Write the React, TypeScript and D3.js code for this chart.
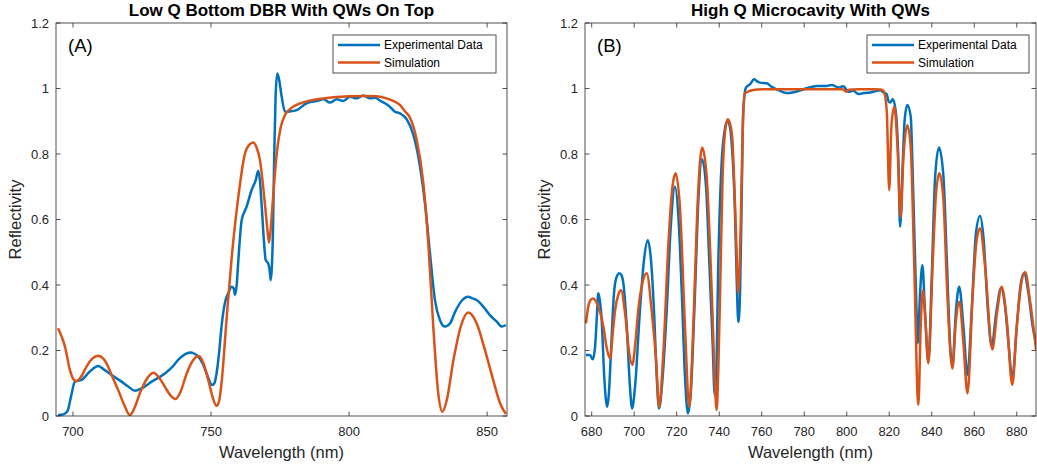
import React from "react";
import * as d3 from "d3";

// ---------- DATA ----------
const leftExpWl = [694.6,696.5,698.0,699.3,700.7,703.1,706.0,709.1,711.5,714.0,717.6,720.0,722.4,725.0,728.5,733.3,736.0,738.1,740.5,742.4,744.0,745.4,747.0,748.4,750.4,751.2,752.0,753.0,753.8,755.0,756.5,757.4,758.2,758.7,759.3,759.9,761.1,762.9,764.7,766.2,767.1,767.7,768.3,769.2,769.8,770.7,771.3,771.6,772.0,772.4,772.9,773.4,774.0,774.6,775.5,776.8,778.5,781.0,784.6,788.3,790.7,793.1,795.5,797.9,800.3,802.7,805.1,807.6,809.5,811.2,813.0,814.8,816.5,818.4,820.9,823.3,825.7,827.5,829.3,831.1,832.9,834.7,836.6,838.4,840.8,843.2,844.5,846.2,848.6,851.0,853.5,855.3,856.8];
const leftExpR = [0.003,0.005,0.015,0.06,0.105,0.11,0.135,0.153,0.14,0.125,0.105,0.09,0.077,0.085,0.105,0.13,0.15,0.171,0.188,0.194,0.19,0.181,0.16,0.13,0.095,0.1,0.13,0.2,0.273,0.344,0.38,0.395,0.39,0.37,0.4,0.476,0.598,0.639,0.69,0.72,0.749,0.72,0.649,0.53,0.476,0.466,0.44,0.415,0.45,0.55,0.8,0.98,1.046,1.03,0.98,0.929,0.93,0.934,0.955,0.962,0.967,0.957,0.967,0.962,0.975,0.97,0.979,0.97,0.972,0.963,0.955,0.944,0.93,0.924,0.906,0.858,0.761,0.649,0.497,0.354,0.293,0.273,0.283,0.318,0.352,0.364,0.36,0.354,0.334,0.308,0.288,0.273,0.278];

const leftSimWl = [694.6,696.0,697.1,698.9,700.2,701.3,702.8,704.9,707.0,709.1,711.0,712.7,714.5,716.4,718.5,720.6,722.3,724.2,726.5,729.1,731.2,733.3,735.3,737.2,739.0,741.2,743.5,745.6,747.3,749.0,750.5,752.0,752.9,753.8,755.6,757.4,759.9,762.3,763.8,765.3,766.5,767.7,769.5,770.4,771.0,771.7,772.5,773.8,775.2,776.8,779.0,781.0,785.8,790.0,794.3,800.0,806.4,810.0,813.6,816.0,818.4,820.3,822.1,824.5,826.9,828.7,830.5,832.3,833.8,835.4,837.8,840.8,843.2,846.2,849.2,852.2,854.7,856.8];
const leftSimR = [0.268,0.24,0.212,0.14,0.112,0.107,0.118,0.151,0.175,0.184,0.175,0.151,0.115,0.079,0.035,0.003,0.025,0.069,0.11,0.132,0.117,0.089,0.063,0.052,0.075,0.13,0.17,0.183,0.16,0.11,0.06,0.031,0.045,0.1,0.293,0.476,0.67,0.802,0.828,0.835,0.82,0.782,0.649,0.57,0.529,0.58,0.67,0.802,0.88,0.919,0.94,0.95,0.963,0.969,0.973,0.976,0.977,0.976,0.97,0.962,0.95,0.93,0.91,0.843,0.711,0.527,0.273,0.069,0.013,0.049,0.171,0.283,0.316,0.283,0.202,0.11,0.039,0.006];

const rightExpWl = [677.3,679.2,680.5,681.6,682.4,683.1,683.9,684.7,685.9,687.3,688.1,688.9,690.5,691.5,693.0,694.0,694.9,696.5,698.0,699.0,700.4,702.7,704.6,706.4,707.9,709.3,710.6,711.7,713.4,715.3,717.2,719.2,720.8,722.4,723.9,725.3,726.6,728.6,730.2,731.9,733.8,735.3,736.9,737.9,738.5,739.6,741.2,742.5,743.8,744.8,745.9,747.4,748.2,749.0,749.8,750.6,751.3,752.6,754.5,756.4,757.8,759.2,762.4,764.7,768.6,771.8,776.5,781.2,785.9,790.6,793.0,796.1,798.4,800.8,803.1,805.5,808.0,811.0,813.5,815.7,817.3,818.8,819.6,820.4,821.7,823.2,824.3,825.1,826.4,827.2,828.5,830.1,831.3,832.6,833.4,834.5,835.6,836.8,838.4,840.0,841.6,843.4,845.5,847.1,848.6,849.7,851.4,852.9,854.9,856.8,858.8,860.8,862.7,864.3,866.4,868.2,870.3,872.6,874.5,876.1,877.9,880.0,881.8,883.4,885.5,887.5,889.1];
const rightExpR = [0.186,0.186,0.173,0.212,0.3,0.375,0.35,0.293,0.12,0.028,0.07,0.171,0.375,0.42,0.436,0.43,0.405,0.273,0.09,0.023,0.09,0.323,0.476,0.537,0.476,0.323,0.12,0.023,0.12,0.323,0.578,0.7,0.608,0.375,0.12,0.008,0.069,0.375,0.66,0.784,0.7,0.476,0.222,0.064,0.1,0.476,0.78,0.87,0.9,0.89,0.83,0.627,0.424,0.287,0.375,0.678,0.932,1.003,1.013,1.028,1.022,1.018,1.016,1.005,0.993,0.986,0.991,1.001,1.008,1.008,1.011,1.003,1.007,0.99,0.993,0.983,0.986,0.988,0.992,0.995,0.988,0.983,0.962,0.957,0.967,0.922,0.78,0.578,0.78,0.9,0.95,0.914,0.678,0.375,0.222,0.375,0.46,0.323,0.166,0.424,0.731,0.82,0.731,0.476,0.222,0.151,0.323,0.395,0.273,0.125,0.323,0.558,0.611,0.548,0.323,0.212,0.314,0.39,0.334,0.222,0.115,0.273,0.4,0.436,0.375,0.273,0.222];

const rightSimWl = [677.3,678.4,679.6,680.8,682.0,683.1,685.5,687.0,688.6,690.0,691.0,692.5,693.8,695.7,697.5,699.1,700.5,701.9,704.0,705.9,708.2,710.3,711.7,713.7,716.1,718.0,719.5,721.6,723.9,725.9,727.8,729.7,731.0,732.0,734.1,736.5,738.0,738.8,739.6,740.4,741.6,742.8,744.0,745.2,746.2,747.8,749.0,750.1,751.1,752.1,754.5,758.0,764.0,770.0,780.0,790.0,798.0,800.0,801.0,805.0,812.0,816.0,817.3,818.8,820.0,821.0,822.4,823.8,825.4,826.6,828.5,830.1,831.7,833.7,834.8,835.8,837.0,838.4,840.5,842.0,843.6,845.5,847.3,849.7,851.4,853.0,854.9,856.8,859.3,861.0,862.7,865.1,868.5,870.8,872.9,875.3,877.9,880.0,882.0,883.9,886.2,889.1];
const rightSimR = [0.283,0.334,0.355,0.359,0.35,0.334,0.273,0.21,0.176,0.26,0.323,0.37,0.384,0.314,0.2,0.156,0.22,0.323,0.41,0.436,0.323,0.171,0.028,0.191,0.527,0.7,0.741,0.629,0.273,0.028,0.273,0.629,0.78,0.82,0.731,0.375,0.1,0.018,0.15,0.375,0.731,0.87,0.906,0.89,0.843,0.578,0.375,0.578,0.884,0.985,0.993,0.997,0.998,0.998,0.998,0.998,0.998,0.99,0.996,0.998,0.998,0.997,0.993,0.934,0.69,0.883,0.944,0.833,0.608,0.78,0.888,0.822,0.476,0.034,0.273,0.384,0.293,0.161,0.476,0.678,0.741,0.66,0.375,0.145,0.293,0.349,0.222,0.069,0.375,0.53,0.573,0.456,0.203,0.32,0.395,0.293,0.095,0.273,0.4,0.44,0.354,0.202];

const leftXTicks = [700, 750, 800, 850];
const rightXTicks = [680, 700, 720, 740, 760, 780, 800, 820, 840, 860, 880];
const yTicks = [0, 0.2, 0.4, 0.6, 0.8, 1, 1.2];
const seriesNames = ["Experimental Data", "Simulation"];

const BLUE = "#0072BD";
const ORANGE = "#D95319";
const AX = "#262626";
const FONT = "'Liberation Sans', Arial, Helvetica, sans-serif";

type PanelProps = {
  id: string;
  left: number;
  right: number;
  top: number;
  bottom: number;
  xDomain: [number, number];
  xTicks: number[];
  title: string;
  letter: string;
  expWl: number[];
  expR: number[];
  simWl: number[];
  simR: number[];
  legendX: number;
  legendW: number;
};

function Panel(p: PanelProps) {
  const x = d3.scaleLinear().domain(p.xDomain).range([p.left, p.right]);
  const y = d3.scaleLinear().domain([0, 1.2]).range([p.bottom, p.top]);
  const line = d3
    .line<[number, number]>()
    .x((d) => x(d[0]))
    .y((d) => y(d[1]))
    .curve(d3.curveMonotoneX);
  const exp = p.expWl.map((w, i) => [w, p.expR[i]] as [number, number]);
  const sim = p.simWl.map((w, i) => [w, p.simR[i]] as [number, number]);
  const cx = (p.left + p.right) / 2;
  const tl = 4.5;
  const legTop = 35;
  const legBot = 73;
  return (
    <g>
      <defs>
        <clipPath id={p.id}>
          <rect x={p.left} y={p.top} width={p.right - p.left} height={p.bottom - p.top} />
        </clipPath>
      </defs>
      <g clipPath={`url(#${p.id})`}>
        <path d={line(exp) || ""} fill="none" stroke={BLUE} strokeWidth={2.5} strokeLinejoin="round" />
        <path d={line(sim) || ""} fill="none" stroke={ORANGE} strokeWidth={2.5} strokeLinejoin="round" />
      </g>
      <rect x={p.left} y={p.top} width={p.right - p.left} height={p.bottom - p.top} fill="none" stroke={AX} strokeWidth={0.8} />
      {p.xTicks.map((t) => (
        <g key={"x" + t}>
          <line x1={x(t)} x2={x(t)} y1={p.bottom} y2={p.bottom - tl} stroke={AX} strokeWidth={0.8} />
          <line x1={x(t)} x2={x(t)} y1={p.top} y2={p.top + tl} stroke={AX} strokeWidth={0.8} />
          <text x={x(t)} y={p.bottom + 20} textAnchor="middle" fontSize={13} fill={AX} fontFamily={FONT}>
            {t}
          </text>
        </g>
      ))}
      {yTicks.map((t) => (
        <g key={"y" + t}>
          <line x1={p.left} x2={p.left + tl} y1={y(t)} y2={y(t)} stroke={AX} strokeWidth={0.8} />
          <line x1={p.right} x2={p.right - tl} y1={y(t)} y2={y(t)} stroke={AX} strokeWidth={0.8} />
          <text x={p.left - 7} y={y(t) + 4.7} textAnchor="end" fontSize={13} fill={AX} fontFamily={FONT}>
            {t === 0 || t === 1 ? String(t) : t.toFixed(1)}
          </text>
        </g>
      ))}
      <text x={cx} y={p.bottom + 42} textAnchor="middle" fontSize={16.5} fill={AX} fontFamily={FONT}>
        Wavelength (nm)
      </text>
      <text
        transform={`translate(${p.left - 35},${(p.top + p.bottom) / 2}) rotate(-90)`}
        textAnchor="middle"
        fontSize={16.5}
        fill={AX}
        fontFamily={FONT}
      >
        Reflectivity
      </text>
      <text x={cx} y={16} textAnchor="middle" fontSize={17} fontWeight="bold" fill="#000" fontFamily={FONT}>
        {p.title}
      </text>
      <text x={p.left + 12} y={52} fontSize={18.5} fill="#000" fontFamily={FONT}>
        {p.letter}
      </text>
      <rect x={p.legendX} y={legTop} width={p.legendW} height={legBot - legTop} fill="#fff" stroke={AX} strokeWidth={0.8} />
      {seriesNames.map((n, i) => {
        const ly = legTop + 10 + i * 17.5;
        return (
          <g key={n}>
            <line x1={p.legendX + 5} x2={p.legendX + 47} y1={ly} y2={ly} stroke={i === 0 ? BLUE : ORANGE} strokeWidth={2.5} />
            <text x={p.legendX + 51} y={ly + 4.2} fontSize={12} fill="#000" fontFamily={FONT}>
              {n}
            </text>
          </g>
        );
      })}
    </g>
  );
}

export default function App() {
  return (
    <svg
      width={1037}
      height={465}
      style={{ position: "absolute", left: 0, top: 0, background: "#fff" }}
    >
      <rect width={1037} height={465} fill="#fff" />
      <Panel
        id="clipA"
        left={56}
        right={507}
        top={23}
        bottom={416}
        xDomain={[693.85, 857.2]}
        xTicks={leftXTicks}
        title="Low Q Bottom DBR With QWs On Top"
        letter="(A)"
        expWl={leftExpWl}
        expR={leftExpR}
        simWl={leftSimWl}
        simR={leftSimR}
        legendX={333}
        legendW={163}
      />
      <Panel
        id="clipB"
        left={585}
        right={1036}
        top={23}
        bottom={416}
        xDomain={[676.85, 889.05]}
        xTicks={rightXTicks}
        title="High Q Microcavity With QWs"
        letter="(B)"
        expWl={rightExpWl}
        expR={rightExpR}
        simWl={rightSimWl}
        simR={rightSimR}
        legendX={867}
        legendW={162}
      />
    </svg>
  );
}
